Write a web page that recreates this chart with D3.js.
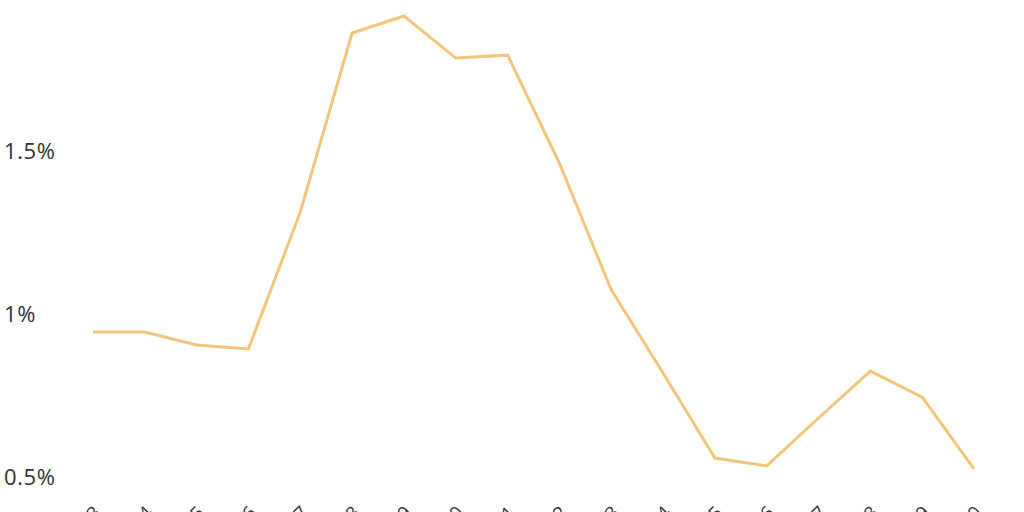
<!DOCTYPE html>
<html>
<head>
<meta charset="utf-8">
<script src="https://cdn.jsdelivr.net/npm/d3@7"></script>
<style>
  body { margin: 0; background: #fff; }
  svg { display: block; font-family: "Open Sans", Roboto, sans-serif; }
</style>
</head>
<body>
<div id="chart"></div>
<script>
var years = ['2003', '2004', '2005', '2006', '2007', '2008', '2009', '2010', '2011',
    '2012', '2013', '2014', '2015', '2016', '2017', '2018', '2019', '2020'];
var values = [0.945, 0.945, 0.905, 0.893, 1.313, 1.862, 1.914, 1.785, 1.794,
    1.463, 1.074, 0.819, 0.558, 0.534, 0.681, 0.825, 0.745, 0.525];
var yTicks = [0.5, 1, 1.5];

var width = 1024, height = 512;

var svg = d3.select('#chart')
    .append('svg')
    .attr('width', width)
    .attr('height', height);

var x = d3.scalePoint()
    .domain(years)
    .range([93, 974]);

var y = d3.scaleLinear()
    .domain([0.5, 2])
    .range([477, -12]);

// y labels, no axis line
svg.selectAll('.ylab')
    .data(yTicks)
    .enter()
    .append('text')
    .attr('class', 'ylab')
    .attr('x', 4)
    .attr('y', function(d) { return y(d); })
    .attr('dy', '0.36em')
    .attr('font-size', 22)
    .attr('letter-spacing', 0.6)
    .attr('fill', '#333')
    .text(function(d) { return d + '%'; });

// x labels, rotated and mostly cut off by the bottom edge
svg.selectAll('.xlab')
    .data(years)
    .enter()
    .append('text')
    .attr('class', 'xlab')
    .attr('transform', function(d) { return 'translate(' + (x(d) - 3) + ',' + 502 + ') rotate(-45)'; })
    .attr('text-anchor', 'end')
    .attr('dy', '0.9em')
    .attr('font-size', 19)
    .attr('fill', '#333')
    .text(function(d) { return d; });

var line = d3.line()
    .x(function(d, i) { return x(years[i]); })
    .y(function(d) { return y(d); });

svg.append('path')
    .datum(values)
    .attr('d', line)
    .attr('fill', 'none')
    .attr('stroke', '#f3c57c')
    .attr('stroke-width', 3);
</script>
</body>
</html>
